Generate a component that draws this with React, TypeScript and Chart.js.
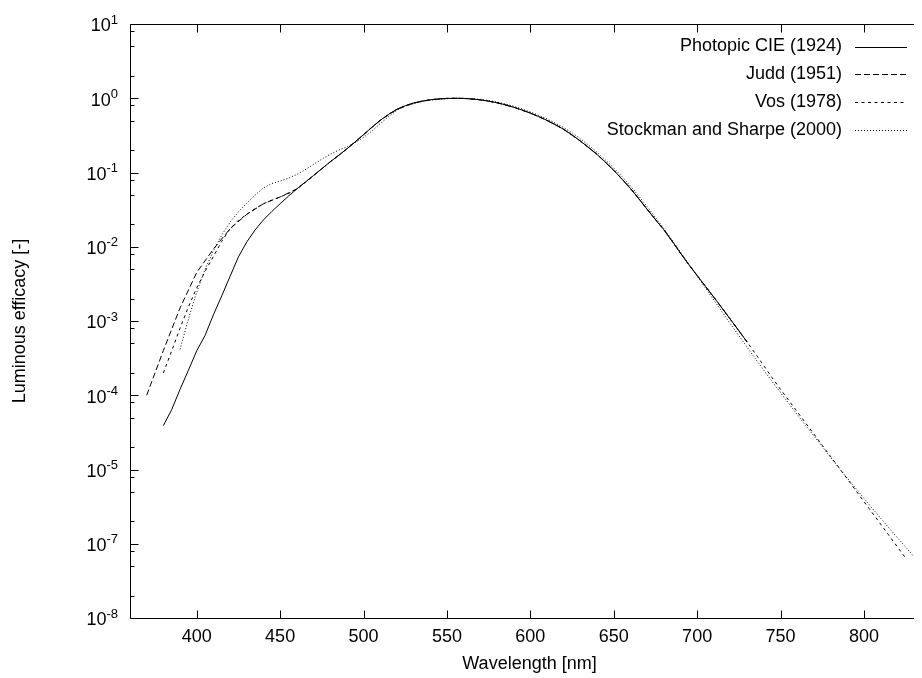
import { useEffect, useRef } from 'react';
import { Chart, registerables } from 'chart.js';

Chart.register(...registerables);

// ---- data ----
const seriesLabels = ['Photopic CIE (1924)', 'Judd (1951)', 'Vos (1978)', 'Stockman and Sharpe (2000)'];

const cieWavelengths = [
  380, 385, 390, 395, 400, 405, 410, 415, 420, 425, 430, 435, 440, 445, 450, 455, 460, 465, 470, 475,
  480, 485, 490, 495, 500, 505, 510, 515, 520, 525, 530, 535, 540, 545, 550, 555, 560, 565, 570, 575,
  580, 585, 590, 595, 600, 605, 610, 615, 620, 625, 630, 635, 640, 645, 650, 655, 660, 665, 670, 675,
  680, 685, 690, 695, 700, 705, 710, 715, 720, 725, 730,
];
const cieValues = [
  0.000039, 0.000064, 0.00012, 0.000217, 0.000396, 0.00064, 0.00121, 0.00218, 0.004, 0.0073,
  0.0116, 0.01684, 0.023, 0.0298, 0.038, 0.048, 0.06, 0.0739, 0.09098, 0.1126,
  0.13902, 0.1693, 0.20802, 0.2586, 0.323, 0.4073, 0.503, 0.6082, 0.71, 0.7932,
  0.862, 0.91485, 0.954, 0.9803, 0.99495, 1.0, 0.995, 0.9786, 0.952, 0.9154,
  0.87, 0.8163, 0.757, 0.6949, 0.631, 0.5668, 0.503, 0.4412, 0.381, 0.321,
  0.265, 0.217, 0.175, 0.1382, 0.107, 0.0816, 0.061, 0.04458, 0.032, 0.0232,
  0.017, 0.01192, 0.00821, 0.005723, 0.004102, 0.002929, 0.002091, 0.001484, 0.001047, 0.00074,
  0.00052,
];

const juddWavelengths = [
  370, 380, 390, 400, 410, 420, 430, 440, 450, 460, 470, 480, 490, 500, 510, 520, 530, 540, 550,
  560, 570, 580, 590, 600, 610, 620, 630, 640, 650, 660, 670, 680, 690, 700, 710, 720, 730,
];
const juddValues = [
  0.0001, 0.0004, 0.0015, 0.0045, 0.0093, 0.0175, 0.0273, 0.0379, 0.0468, 0.06, 0.091, 0.139,
  0.208, 0.323, 0.503, 0.71, 0.862, 0.954, 0.995, 0.995, 0.952, 0.87, 0.757, 0.631, 0.503,
  0.381, 0.265, 0.175, 0.107, 0.061, 0.032, 0.017, 0.0082, 0.0041, 0.0021, 0.00105, 0.00052,
];

const vosWavelengths = [
  380, 385, 390, 395, 400, 405, 410, 415, 420, 425, 430, 435, 440, 445, 450, 455, 460, 465, 470, 475,
  480, 485, 490, 495, 500, 505, 510, 515, 520, 525, 530, 535, 540, 545, 550, 555, 560, 565, 570, 575,
  580, 585, 590, 595, 600, 605, 610, 615, 620, 625, 630, 635, 640, 645, 650, 655, 660, 665, 670, 675,
  680, 685, 690, 695, 700, 705, 710, 715, 720, 725, 730, 735, 740, 745, 750, 755, 760, 765, 770, 775,
  780, 785, 790, 795, 800, 805, 810, 815, 820, 825,
];
const vosValues = [
  0.0002, 0.0003955, 0.0008, 0.001545, 0.0028, 0.004656, 0.0074, 0.0118, 0.0175, 0.0227,
  0.0273, 0.0326, 0.0379, 0.0424, 0.0468, 0.0521, 0.06, 0.0729, 0.09098, 0.1126,
  0.13902, 0.1693, 0.20802, 0.2586, 0.323, 0.4073, 0.503, 0.6082, 0.71, 0.7932,
  0.862, 0.91485, 0.954, 0.9803, 0.99495, 1.0, 0.995, 0.9786, 0.952, 0.9154,
  0.87, 0.8163, 0.757, 0.6949, 0.631, 0.5668, 0.503, 0.4412, 0.381, 0.321,
  0.265, 0.217, 0.175, 0.1382, 0.107, 0.0816, 0.061, 0.04458, 0.032, 0.0232,
  0.017, 0.01192, 0.00821, 0.005723, 0.004102, 0.002929, 0.002091, 0.001484, 0.001047, 0.00074,
  0.00052, 0.0003611, 0.0002492, 0.0001719, 0.00012, 0.0000848, 0.00006, 0.0000424, 0.00003, 0.0000212,
  0.00001499, 0.0000106, 0.0000074657, 0.0000052578, 0.0000037029, 0.0000026078, 0.0000018366,
  0.0000012934, 0.00000091093, 0.00000064153,
];

const ssWavelengths = [
  390, 395, 400, 405, 410, 415, 420, 425, 430, 435, 440, 445, 450, 455, 460, 465, 470, 475,
  480, 485, 490, 495, 500, 505, 510, 515, 520, 525, 530, 535, 540, 545, 550, 555, 560, 565, 570, 575,
  580, 585, 590, 595, 600, 605, 610, 615, 620, 625, 630, 635, 640, 645, 650, 655, 660, 665, 670, 675,
  680, 685, 690, 695, 700, 705, 710, 715, 720, 725, 730, 735, 740, 745, 750, 755, 760, 765, 770, 775,
  780, 785, 790, 795, 800, 805, 810, 815, 820, 825, 830,
];
const ssValues = [
  0.00041509, 0.0010593, 0.0024523, 0.0049745, 0.0088076, 0.014361, 0.021411, 0.029524, 0.038667,
  0.049608, 0.062122, 0.071008, 0.076659, 0.083847, 0.094069, 0.10902, 0.1283, 0.15151,
  0.17606, 0.19934, 0.22106, 0.25384, 0.29689, 0.36207, 0.45478, 0.56652, 0.68817, 0.78741,
  0.84383, 0.90557, 0.94021, 0.96718, 0.98584, 0.99913, 0.99802, 0.98641, 0.96433, 0.93128,
  0.88813, 0.83766, 0.77926, 0.71689, 0.65394, 0.58964, 0.52584, 0.46291, 0.40163, 0.34265,
  0.28512, 0.23308, 0.18676, 0.14785, 0.11514, 0.087871, 0.065743, 0.048185, 0.034764, 0.024855,
  0.017562, 0.01225, 0.0084549, 0.0058339, 0.0040232, 0.0027781, 0.0019144, 0.0013226, 0.00091425,
  0.00063595, 0.00044208, 0.0003088, 0.00021655, 0.00015269, 0.00010831, 0.00007704, 0.000054913,
  0.000039318, 0.000028277, 0.000020432, 0.0000145, 0.0000105, 0.00000766, 0.00000559, 0.00000409,
  0.000003, 0.00000221, 0.00000163, 0.00000121, 0.0000009, 0.000000672,
];

const seriesDashes = [[], [6, 3], [3, 3.5], [1, 2]];

const xTickValues = [400, 450, 500, 550, 600, 650, 700, 750, 800];
const yTickValues = [10, 1, 0.1, 0.01, 0.001, 0.0001, 0.00001, 0.000001, 0.0000001];
const yTickExponents = ['1', '0', '-1', '-2', '-3', '-4', '-5', '-7', '-8'];
const yMinorMultipliers = [2, 5, 8];

const FAMILY = '"Liberation Sans", Arial, Helvetica, sans-serif';

const gnuplotFrame = {
  id: 'gnuplotFrame',
  afterDraw(chart: any) {
    const { ctx, chartArea: a } = chart;
    const xs = chart.scales.x;
    const ys = chart.scales.y;
    const L = Math.round(a.left) + 0.5;
    const R = Math.round(a.right) + 0.5;
    const T = Math.round(a.top) + 0.5;
    const B = Math.round(a.bottom) + 0.5;
    ctx.save();
    ctx.strokeStyle = '#000';
    ctx.lineWidth = 1;
    ctx.setLineDash([]);
    ctx.beginPath();
    ctx.rect(L, T, R - L, B - T);
    for (const v of xTickValues) {
      const p = Math.round(xs.getPixelForValue(v)) + 0.5;
      ctx.moveTo(p, B);
      ctx.lineTo(p, B - 8);
      ctx.moveTo(p, T);
      ctx.lineTo(p, T + 8);
    }
    for (const v of yTickValues) {
      const p = Math.round(ys.getPixelForValue(v)) + 0.5;
      ctx.moveTo(L, p);
      ctx.lineTo(L + 8, p);
      ctx.moveTo(R, p);
      ctx.lineTo(R - 8, p);
      for (const m of yMinorMultipliers) {
        const mv = v * m;
        if (mv > ys.max * 1.0001) continue;
        const q = Math.round(ys.getPixelForValue(mv)) + 0.5;
        ctx.moveTo(L, q);
        ctx.lineTo(L + 4, q);
        ctx.moveTo(R, q);
        ctx.lineTo(R - 4, q);
      }
    }
    ctx.stroke();

    // y tick labels with superscript exponents
    ctx.fillStyle = '#000';
    ctx.textBaseline = 'middle';
    ctx.textAlign = 'right';
    const edge = a.left - 12;
    yTickValues.forEach((v, i) => {
      const p = ys.getPixelForValue(v);
      ctx.font = `13px ${FAMILY}`;
      const w = ctx.measureText(yTickExponents[i]).width;
      ctx.fillText(yTickExponents[i], edge, p - 4);
      ctx.font = `18px ${FAMILY}`;
      ctx.fillText('10', edge - w, p + 2.5);
    });

    // gnuplot-style key: right-aligned text, sample to the right
    ctx.font = `18px ${FAMILY}`;
    chart.data.datasets.forEach((ds: any, i: number) => {
      const yy = a.top + 22.5 + i * 27.8;
      ctx.textAlign = 'right';
      ctx.fillText(ds.label, a.right - 87, yy);
      ctx.setLineDash(ds.borderDash || []);
      ctx.beginPath();
      const ly = Math.round(yy) + 0.5;
      ctx.moveTo(a.right - 74, ly);
      ctx.lineTo(a.right - 22, ly);
      ctx.stroke();
    });
    ctx.restore();
  },
};

export default function App() {
  const canvasRef = useRef<HTMLCanvasElement | null>(null);

  useEffect(() => {
    document.documentElement.style.overflow = 'hidden';
    document.body.style.overflow = 'hidden';
    const canvas = canvasRef.current;
    if (!canvas) return;
    const wl = [cieWavelengths, juddWavelengths, vosWavelengths, ssWavelengths];
    const vals = [cieValues, juddValues, vosValues, ssValues];
    const font = { family: FAMILY, size: 18 };
    const chart = new Chart(canvas, {
      type: 'line',
      data: {
        datasets: seriesLabels.map((label, k) => ({
          label,
          data: wl[k].map((w, i) => ({ x: w, y: vals[k][i] })),
          borderColor: '#000',
          borderWidth: 1,
          borderDash: seriesDashes[k],
          pointRadius: 0,
          tension: 0,
          fill: false,
        })),
      },
      options: {
        animation: false,
        responsive: false,
        devicePixelRatio: 1,
        layout: { padding: { left: 0, top: 16, right: 9, bottom: 0 } },
        plugins: { legend: { display: false }, tooltip: { enabled: false } },
        scales: {
          x: {
            type: 'linear',
            min: 360,
            max: 839,
            grid: { display: false, drawTicks: false },
            border: { display: false },
            afterBuildTicks: (s: any) => {
              s.ticks = xTickValues.map((v) => ({ value: v }));
            },
            afterFit: (s: any) => {
              s.height = 60;
            },
            ticks: { font, color: '#000', padding: 8, maxRotation: 0, autoSkip: false },
            title: {
              display: true,
              text: 'Wavelength [nm]',
              font,
              color: '#000',
              padding: { top: 0, bottom: 3.2 },
            },
          },
          y: {
            type: 'logarithmic',
            min: 0.0000001,
            max: 10,
            grid: { display: false, drawTicks: false },
            border: { display: false },
            afterBuildTicks: (s: any) => {
              s.ticks = yTickValues.map((v) => ({ value: v }));
            },
            afterFit: (s: any) => {
              s.width = 122;
            },
            ticks: { display: false },
            title: {
              display: true,
              text: 'Luminous efficacy [-]',
              font,
              color: '#000',
              padding: { top: 1.2, bottom: 0 },
            },
          },
        },
      } as any,
      plugins: [gnuplotFrame],
    });
    return () => chart.destroy();
  }, []);

  return (
    <div style={{ width: 914, height: 670, overflow: 'hidden', background: '#fff' }}>
      <canvas ref={canvasRef} width={930} height={670} style={{ display: 'block' }} />
    </div>
  );
}
